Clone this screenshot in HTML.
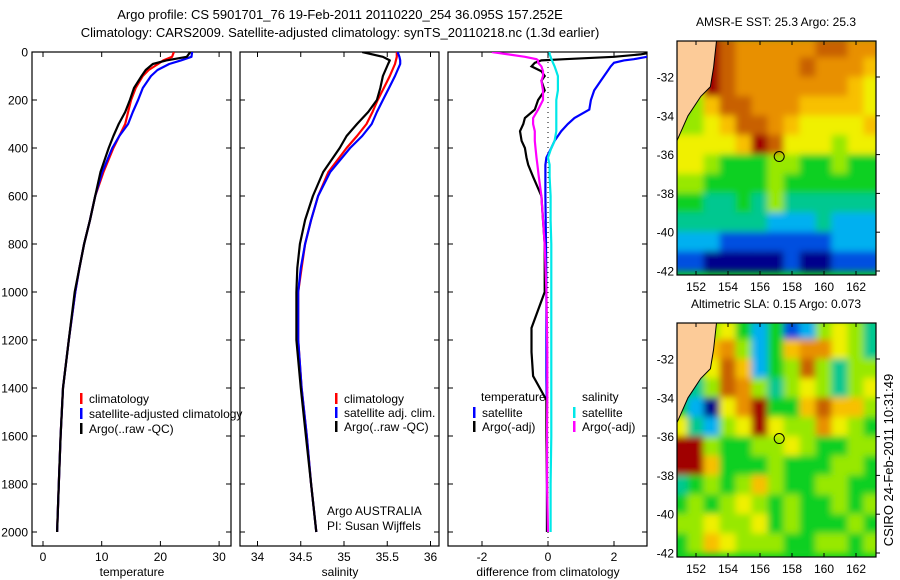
<!DOCTYPE html>
<html><head><meta charset="utf-8"><style>
html,body{margin:0;padding:0;background:#fff;}
svg{display:block;font-family:"Liberation Sans",sans-serif;}
text{fill:#000;}
</style></head><body>
<svg id="fig" width="900" height="580" viewBox="0 0 900 580" xmlns="http://www.w3.org/2000/svg">
<defs>
<clipPath id="cT"><rect x="32" y="52" width="199" height="494"/></clipPath>
<clipPath id="cS"><rect x="240" y="52" width="199" height="494"/></clipPath>
<clipPath id="cD"><rect x="448" y="52" width="199" height="494"/></clipPath>
<clipPath id="cM1"><rect x="677" y="41" width="199" height="234"/></clipPath>
<clipPath id="cM2"><rect x="677" y="323" width="199" height="234"/></clipPath>
<filter id="blur" filterUnits="userSpaceOnUse" x="600" y="0" width="300" height="580"><feGaussianBlur stdDeviation="3.5"/></filter>
</defs>
<text x="340" y="19" font-size="13" text-anchor="middle">Argo profile: CS 5901701_76 19-Feb-2011 20110220_254 36.095S 157.252E</text>
<text x="340" y="37" font-size="13" text-anchor="middle">Climatology: CARS2009. Satellite-adjusted climatology: synTS_20110218.nc (1.3d earlier)</text>
<g id="gT"></g>
<g id="gS"></g>
<g id="gD"></g>
<g id="gM1"></g>
<g id="gM2"></g>
<text transform="translate(893,460) rotate(-90)" font-size="13" text-anchor="middle">CSIRO 24-Feb-2011 10:31:49</text>
</svg>
<script>
// ---- data ----
const depths = [0,20,35,50,75,100,150,200,250,300,350,400,500,600,700,800,900,1000,1200,1400,1600,1800,2000];
const tempClim = [22.3,22,20.5,19.6,18,17,15.8,15,14.5,14,13,12,10.3,8.9,8,7,6.2,5.5,4.4,3.4,3.0,2.7,2.4];
const tempSat = [25.4,25.3,23.5,21.5,19.5,18.4,17,16.2,15.3,14.5,13,11.8,10.1,8.9,8,7,6.2,5.5,4.4,3.4,3.0,2.7,2.4];
const tempArgo = [25.1,24.5,21,18.7,17.5,16.8,15.5,14.8,14,12.9,12,11.2,9.8,8.9,8,7,6.2,5.4,4.4,3.4,3.0,2.7,2.4];
const salClim = [35.61,35.61,35.60,35.59,35.56,35.53,35.46,35.39,35.33,35.26,35.15,35.03,34.82,34.70,34.62,34.55,34.51,34.47,34.47,34.51,34.57,34.62,34.68];
const salSat = [35.62,35.64,35.65,35.65,35.62,35.59,35.52,35.45,35.38,35.32,35.21,35.07,34.84,34.70,34.62,34.55,34.50,34.47,34.47,34.51,34.57,34.62,34.68];
const salArgo = [35.21,35.45,35.53,35.51,35.48,35.45,35.42,35.38,35.28,35.15,35.03,34.95,34.76,34.64,34.55,34.49,34.46,34.45,34.45,34.50,34.56,34.62,34.68];
const diffDepths = [0,10,20,30,35,45,60,80,100,120,160,200,240,275,300,330,370,400,440,470,520,600,700,800,1000,1150,1250,1350,1450,1600,1800,2000];
const dTempSat = [3.2,3.1,3.0,2.6,2.3,2.0,1.9,1.8,1.7,1.6,1.4,1.3,1.25,0.8,0.6,0.4,0.2,0.1,-0.05,-0.08,-0.08,-0.08,-0.07,-0.06,-0.05,-0.05,-0.05,-0.05,-0.04,-0.03,-0.03,-0.03];
const dTempArgo = [3.2,2.8,2.0,0.5,-0.2,-0.4,-0.5,-0.2,-0.1,-0.2,-0.1,-0.3,-0.4,-0.7,-0.75,-0.85,-0.8,-0.7,-0.65,-0.6,-0.45,-0.2,-0.15,-0.1,-0.1,-0.5,-0.5,-0.45,-0.05,-0.05,-0.03,-0.03];
const dSalArgo = [-1.7,-1.2,-0.7,-0.35,-0.3,-0.3,-0.2,-0.15,-0.15,-0.2,-0.15,-0.15,-0.3,-0.45,-0.45,-0.4,-0.4,-0.38,-0.35,-0.32,-0.28,-0.2,-0.15,-0.1,-0.05,-0.03,-0.02,-0.02,-0.02,-0.03,-0.03,0];
const dSalSat = [0.05,0.05,0.08,0.1,0.12,0.15,0.2,0.25,0.3,0.3,0.3,0.25,0.25,0.25,0.25,0.25,0.2,0.1,0.0,0.05,0.05,0.08,0.08,0.1,0.1,0.1,0.1,0.1,0.1,0.1,0.08,0.08];
const depthTicks = [0,200,400,600,800,1000,1200,1400,1600,1800,2000];
const tempTicks = [0,10,20,30];
const salTicks = [34,34.5,35,35.5,36];
const diffTicks = [-2,0,2];
const lonTicks = [152,154,156,158,160,162];
const latTicks = [32,34,36,38,40,42];
const sstGrid = [
[-9,-9,9,8,7,7,7,7,7,8,8,7,7],
[-9,-9,9,8,7,7,7,7,8,7,7,7,6],
[-9,5,9,8,7,7,7,7,7,7,7,6,5],
[3,4,6,8,8,7,7,7,6,6,6,6,5],
[4,4,5,6,8,8,7,6,5,5,5,5,6],
[5,5,5,5,6,9,8,5,5,5,4,5,5],
[5,5,4,3,3,3,4,4,3,3,4,3,3],
[4,4,3,3,3,3,4,3,3,3,3,3,3],
[3,3,2,2,3,2,4,2,2,2,2,2,2],
[2,2,2,2,2,2,1,1,1,2,1,1,1],
[1,1,1,0,0,0,0,0,0,0,1,1,1],
[0,0,-1,-1,-1,-1,-1,0,-1,-1,0,0,0]];
const slaGrid = [
[-9,-9,4,5,3,1,3,0,1,4,5,4,2],
[-9,-9,6,7,4,1,3,6,7,7,5,4,2],
[-9,3,5,8,6,1,3,4,8,4,2,4,4],
[3,2,4,8,7,4,2,4,5,4,2,4,5],
[3,1,-1,5,7,9,3,3,6,8,6,6,4],
[5,2,1,4,5,9,5,4,4,7,5,4,3],
[9,9,4,3,3,4,4,5,4,3,3,4,4],
[9,9,6,3,3,3,4,3,3,3,4,4,3],
[2,3,4,3,4,6,4,3,3,4,4,3,3],
[3,4,3,4,5,4,3,4,3,3,4,3,4],
[4,4,5,4,4,5,3,4,3,3,3,4,3],
[3,4,6,5,4,4,4,3,3,4,4,3,4]];
const gridLon0 = 150.5, gridLat0 = 30;
const argoLon = 157.2, argoLat = 36.1;
// ---- helpers ----
const NS='http://www.w3.org/2000/svg';
function mk(tag, parent, attrs){const e=document.createElementNS(NS,tag);for(const k in attrs)e.setAttribute(k,attrs[k]);parent.appendChild(e);return e;}
const yD = d => 52 + d*0.24;
function panel(g, x0, xScale, ticks, fmt, label, clipId, showDepthLabels, series){
  const fr = mk('rect', g, {x:x0.left,y:52,width:199,height:494,fill:'none',stroke:'#000','stroke-width':1.2});
  
  
  depthTicks.forEach(d=>{
    const y=yD(d);
    mk('line',g,{x1:x0.left,x2:x0.left+5,y1:y,y2:y,stroke:'#000'});
    mk('line',g,{x1:x0.left+194,x2:x0.left+199,y1:y,y2:y,stroke:'#000'});
    if(showDepthLabels){
      const t=mk('text',g,{x:28,y:y+4.5,'font-size':12,'text-anchor':'end'});
      t.textContent=d;
      
      
    }
  });
  ticks.forEach(v=>{
    const x=xScale(v);
    mk('line',g,{x1:x,x2:x,y1:52,y2:57,stroke:'#000'});
    mk('line',g,{x1:x,x2:x,y1:541,y2:546,stroke:'#000'});
    const t=mk('text',g,{x:x,y:561,'font-size':12,'text-anchor':'middle'});
    t.textContent=fmt(v);
    
    
  });
  const xl=mk('text',g,{x:x0.left+100,y:576,'font-size':12,'text-anchor':'middle'});
  xl.textContent=label;
  
  
  const cg=mk('g',g,{'clip-path':'url(#'+clipId+')'});
  series.forEach(s=>{
    const pts=s.vals.map((v,i)=>xScale(v).toFixed(1)+','+yD(s.d[i]).toFixed(1)).join(' ');
    const p=mk('polyline',cg,{points:pts,fill:'none',stroke:s.c,'stroke-width':2.2,'stroke-linejoin':'round'});
    
    
  });
  return cg;
}
function legendItem(g,x,y,color,label){
  mk('rect',g,{x:x,y:y-9,width:2.5,height:11,fill:color});
  const t=mk('text',g,{x:x+9,y:y+1,'font-size':12});
  t.textContent=label;
  
  
}
// temperature
const xT=v=>43+v*5.87;
const gT=document.getElementById('gT');
panel(gT,{left:32},xT,tempTicks,v=>v,'temperature','cT',true,[
 {d:depths,vals:tempClim,c:'#ff0000',n:'temp-climatology-line'},
 {d:depths,vals:tempSat,c:'#0000ff',n:'temp-satellite-line'},
 {d:depths,vals:tempArgo,c:'#000000',n:'temp-argo-line'}]);
legendItem(gT,80,402,'#f00','climatology');
legendItem(gT,80,417,'#00f','satellite-adjusted climatology');
legendItem(gT,80,432,'#000','Argo(..raw -QC)');
// salinity
const xS=v=>257.5+(v-34)*86.5;
const gS=document.getElementById('gS');
panel(gS,{left:240},xS,salTicks,v=>v,'salinity','cS',false,[
 {d:depths,vals:salClim,c:'#ff0000',n:'sal-climatology-line'},
 {d:depths,vals:salSat,c:'#0000ff',n:'sal-satellite-line'},
 {d:depths,vals:salArgo,c:'#000000',n:'sal-argo-line'}]);
legendItem(gS,335,402,'#f00','climatology');
legendItem(gS,335,416,'#00f','satellite adj. clim.');
legendItem(gS,335,430,'#000','Argo(..raw -QC)');
[['Argo AUSTRALIA',515],['PI: Susan Wijffels',530]].forEach(a=>{
  const t=mk('text',gS,{x:327,y:a[1],'font-size':12});t.textContent=a[0];
  
  
});
// difference
const xDf=v=>548+v*33;
const gD=document.getElementById('gD');
const cgD=panel(gD,{left:448},xDf,diffTicks,v=>v,'difference from climatology','cD',false,[]);
mk('line',cgD,{x1:xDf(0),x2:xDf(0),y1:52,y2:546,stroke:'#000','stroke-dasharray':'1,4'});
[{vals:dTempSat,c:'#0000ff',n:'diff-temp-satellite-line'},{vals:dTempArgo,c:'#000',n:'diff-temp-argo-line'},
 {vals:dSalArgo,c:'#ff00ff',n:'diff-sal-argo-line'},{vals:dSalSat,c:'#00e8e8',n:'diff-sal-satellite-line'}].forEach(s=>{
  const pts=s.vals.map((v,i)=>xDf(v).toFixed(1)+','+yD(diffDepths[i]).toFixed(1)).join(' ');
  const p=mk('polyline',cgD,{points:pts,fill:'none',stroke:s.c,'stroke-width':2.2});
  
  
});
[['temperature',481,401],['salinity',582,401]].forEach(a=>{
  const t=mk('text',gD,{x:a[1],y:a[2],'font-size':12});t.textContent=a[0];
  
  
});
legendItem(gD,473,416,'#00f','satellite');
legendItem(gD,473,430,'#000','Argo(-adj)');
legendItem(gD,573,416,'#00e8e8','satellite');
legendItem(gD,573,430,'#f0f','Argo(-adj)');
// maps
const cmap={'-1':'#00008c','0':'#0050e0','1':'#00b0f0','2':'#00c890','3':'#10d020','4':'#98e800','5':'#f0f000','6':'#f8c000','7':'#e89000','8':'#c86000','9':'#a00000'};
function drawMap(g,top,grid,title,clipId){
  const xL=v=>696+(v-152)*16;
  const yL=v=>top+36+(v-32)*19.4;
  const t=mk('text',g,{x:776,y:top-15,'font-size':12,'text-anchor':'middle'});
  t.textContent=title;
  
  
  const cg=mk('g',g,{'clip-path':'url(#'+clipId+')'});
  mk('rect',cg,{x:677,y:top,width:199,height:234,fill:'#10d020'});
  const bg=mk('g',cg,{filter:'url(#blur)'});
  grid.forEach((row,r)=>row.forEach((v,c)=>{
    const lv=v<-1?3:v;
    const cell=mk('rect',bg,{x:xL(gridLon0+c)-0.5,y:yL(gridLat0+r+0.5)-10,width:17,height:20.4,fill:cmap[lv]});
    
    
  }));
  const land=[[150,30],[153.3,30],[153.1,31.5],[152.9,32.5],[152.3,33],[151.5,34],[150.8,35.3],[150,35.6]];
  const lp=mk('polygon',cg,{points:land.map(p=>xL(p[0])+','+yL(p[1])).join(' '),fill:'#fccb98',stroke:'#000','stroke-width':1});
  
  
  const ring=mk('circle',cg,{cx:xL(argoLon),cy:yL(argoLat),r:5,fill:'none',stroke:'#000','stroke-width':1});
  
  
  mk('rect',g,{x:677,y:top,width:199,height:234,fill:'none',stroke:'#000','stroke-width':1.2});
  lonTicks.forEach(v=>{
    const x=xL(v);
    mk('line',g,{x1:x,x2:x,y1:top,y2:top+4,stroke:'#000'});
    mk('line',g,{x1:x,x2:x,y1:top+230,y2:top+234,stroke:'#000'});
    const l=mk('text',g,{x:x,y:top+250,'font-size':12,'text-anchor':'middle'});
    l.textContent=v;
    
    
  });
  latTicks.forEach(v=>{
    const y=yL(v);
    mk('line',g,{x1:876,x2:880,y1:y,y2:y,stroke:'#000'});
    const l=mk('text',g,{x:674,y:y+4.5,'font-size':12,'text-anchor':'end'});
    l.textContent='-'+v;
    
    
  });
}
drawMap(document.getElementById('gM1'),41,sstGrid,'AMSR-E SST: 25.3 Argo: 25.3','cM1');
drawMap(document.getElementById('gM2'),323,slaGrid,'Altimetric SLA: 0.15 Argo: 0.073','cM2');
</script>
</body></html>
